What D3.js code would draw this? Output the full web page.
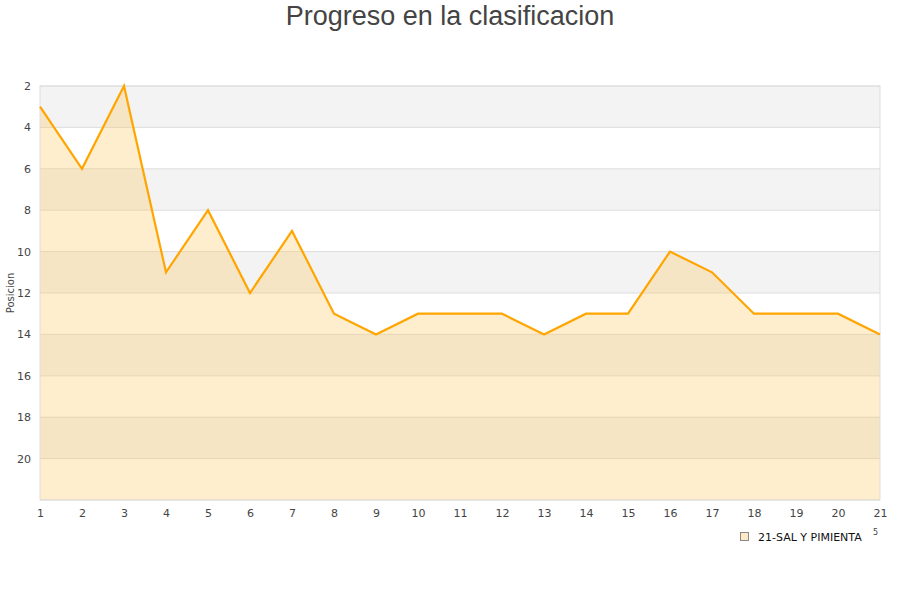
<!DOCTYPE html>
<html><head><meta charset="utf-8">
<script src="https://cdn.jsdelivr.net/npm/d3@7"></script>
<style>body{margin:0;background:#fff;} svg{display:block;}</style>
</head><body>
<svg id="c" width="900" height="600"></svg>
<script>
const jornadas = [1,2,3,4,5,6,7,8,9,10,11,12,13,14,15,16,17,18,19,20,21];
const posiciones = [3,6,2,11,8,12,9,13,14,13,13,13,14,13,13,10,11,13,13,13,14];
const yTicks = [2,4,6,8,10,12,14,16,18,20];
const seriesName = "21-SAL Y PIMIENTA";
const title = "Progreso en la clasificacion";
const yLabel = "Posicion";

const svg = d3.select("#c");
const m = {l:40, r:20, t:86, b:100};
const W = 900, H = 600;
const x = d3.scaleLinear().domain([1,21]).range([m.l, W-m.r]);
const y = d3.scaleLinear().domain([2,22]).range([m.t, H-m.b]);

// bands
const bands = d3.range(2,22,2);
svg.append("g").selectAll("rect").data(bands).join("rect")
  .attr("x", x(1)).attr("width", x(21)-x(1))
  .attr("y", d=>y(d)).attr("height", d=>y(d+2)-y(d))
  .attr("fill", (d,i)=> i%2===0 ? "#f3f3f3" : "#ffffff");

// grid lines
svg.append("g").selectAll("line").data(yTicks.concat([22])).join("line")
  .attr("x1", x(1)).attr("x2", x(21))
  .attr("y1", d=>y(d)).attr("y2", d=>y(d))
  .attr("stroke", "#dddddd").attr("stroke-width", 1);

// area
const area = d3.area().x((d,i)=>x(jornadas[i])).y0(y(22)).y1(d=>y(d));
svg.append("path").datum(posiciones).attr("d", area)
  .attr("fill", "rgba(255,200,90,0.3)");

// frame
svg.append("rect").attr("x", x(1)).attr("y", y(2)).attr("width", x(21)-x(1)).attr("height", y(22)-y(2))
  .attr("fill","none").attr("stroke","#dddddd");

// line
const line = d3.line().x((d,i)=>x(jornadas[i])).y(d=>y(d));
svg.append("path").datum(posiciones).attr("d", line)
  .attr("fill","none").attr("stroke","#ffa500").attr("stroke-width",2.2).attr("stroke-linejoin","miter");

// axes
const yAxis = d3.axisLeft(y).tickValues(yTicks).tickSize(0).tickPadding(9);
const gy = svg.append("g").attr("transform",`translate(${x(1)},0)`).call(yAxis);
gy.select(".domain").remove();
gy.selectAll("text").attr("font-family","DejaVu Sans").attr("font-size",11).attr("fill","#444");

const xAxis = d3.axisBottom(x).tickValues(jornadas).tickFormat(d3.format("d")).tickSize(0).tickPadding(9);
const gx = svg.append("g").attr("transform",`translate(0,${y(22)})`).call(xAxis);
gx.select(".domain").remove();
gx.selectAll("text").attr("font-family","DejaVu Sans").attr("font-size",11).attr("fill","#444");

// title
svg.append("text").attr("x",450).attr("y",25).attr("text-anchor","middle")
  .attr("font-family","Liberation Sans, Arial, sans-serif").attr("font-size",27).attr("fill","#444").text(title);

// y label
svg.append("text").attr("transform","translate(14,293) rotate(-90)").attr("text-anchor","middle")
  .attr("font-family","DejaVu Sans").attr("font-size",10).attr("fill","#444").text(yLabel);

// legend
svg.append("rect").attr("x",740.5).attr("y",532.5).attr("width",8).attr("height",8)
  .attr("fill","#fde9c6").attr("stroke","#888").attr("stroke-width",1);
svg.append("text").attr("x",758).attr("y",540.5).attr("font-family","DejaVu Sans").attr("font-size",11).attr("fill","#111").text(seriesName);
svg.append("text").attr("x",873).attr("y",535).attr("font-family","DejaVu Sans").attr("font-size",8).attr("fill","#444").text("5");
</script>
</body></html>
